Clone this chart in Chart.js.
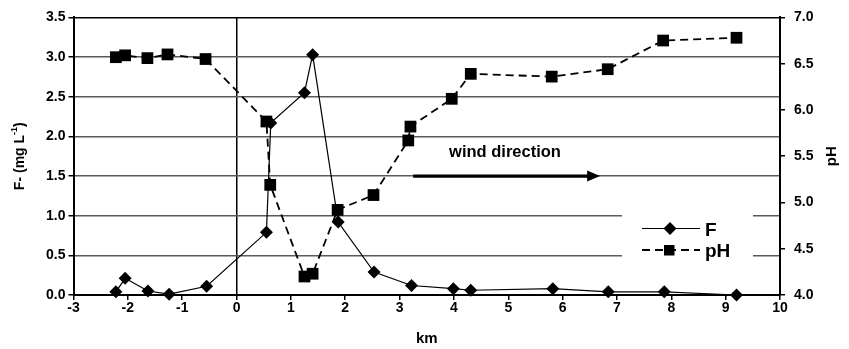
<!DOCTYPE html>
<html>
<head>
<meta charset="utf-8">
<script src="https://cdn.jsdelivr.net/npm/chart.js@4/dist/chart.umd.min.js"></script>
<style>
  html, body { margin: 0; padding: 0; background: #fff; }
  #wrap { width: 849px; height: 349px; }
</style>
</head>
<body>
<div id="wrap"><canvas id="c" width="849" height="349"></canvas></div>
<script>
// Distance along the transect (km) and fluoride concentration (mg/L)
const kmF = [-2.22, -2.05, -1.63, -1.24, -0.55, 0.55, 0.63, 1.25, 1.40, 1.87, 2.53, 3.22, 3.99, 4.31, 5.82, 6.84, 7.87, 9.20];
const fluoride = [0.04, 0.21, 0.05, 0.01, 0.11, 0.79, 2.17, 2.55, 3.03, 0.92, 0.29, 0.12, 0.08, 0.06, 0.08, 0.04, 0.04, 0.00];

// Distance along the transect (km) and pH
const kmPH = [-2.22, -2.05, -1.64, -1.27, -0.57, 0.55, 0.62, 1.25, 1.40, 1.86, 2.52, 3.16, 3.20, 3.96, 4.31, 5.80, 6.83, 7.85, 9.20];
const pHvals = [6.57, 6.59, 6.56, 6.60, 6.55, 5.875, 5.19, 4.20, 4.23, 4.92, 5.08, 5.67, 5.82, 6.12, 6.39, 6.36, 6.44, 6.75, 6.78];

// Axis ranges
const xTicksRange = [-3, 10];
const fRange = [0, 3.5];
const pHRange = [4, 7];

// Wind arrow, in axis units (km, F scale)
const windArrow = { fromKm: 3.25, toKm: 6.69, atF: 1.5 };
const windLabel = { text: 'wind direction', km: 4.94, f: 1.8 };

const FONT = '"Liberation Sans", Arial, Helvetica, sans-serif';

const toPoints = (xs, ys) => xs.map((x, i) => ({ x: x, y: ys[i] }));

const decor = {
  id: 'decor',
  beforeDatasetsDraw(chart) {
    const ctx = chart.ctx;
    // blank area behind the legend, breaking the grid lines
    ctx.save();
    ctx.fillStyle = '#fff';
    ctx.fillRect(622, 203, 131, 62);
    ctx.restore();
  },
  afterDraw(chart) {
    const ctx = chart.ctx;
    const xs = chart.scales.x, ys = chart.scales.y;
    ctx.save();

    // wind direction label and arrow
    ctx.fillStyle = '#000';
    ctx.font = 'bold 16.5px ' + FONT;
    ctx.textAlign = 'center';
    ctx.textBaseline = 'middle';
    ctx.fillText(windLabel.text, xs.getPixelForValue(windLabel.km), ys.getPixelForValue(windLabel.f));

    const ax0 = xs.getPixelForValue(windArrow.fromKm);
    const ax1 = xs.getPixelForValue(windArrow.toKm);
    const ay = ys.getPixelForValue(windArrow.atF);
    ctx.strokeStyle = '#000';
    ctx.lineWidth = 3.2;
    ctx.beginPath();
    ctx.moveTo(ax0, ay);
    ctx.lineTo(ax1 - 10, ay);
    ctx.stroke();
    ctx.beginPath();
    ctx.moveTo(ax1, ay);
    ctx.lineTo(ax1 - 13, ay - 5.5);
    ctx.lineTo(ax1 - 13, ay + 5.5);
    ctx.closePath();
    ctx.fill();

    // legend
    ctx.lineWidth = 1.2;
    ctx.setLineDash([]);
    ctx.beginPath();
    ctx.moveTo(642, 228.5);
    ctx.lineTo(700, 228.5);
    ctx.stroke();
    ctx.beginPath();
    ctx.moveTo(670, 222);
    ctx.lineTo(676.5, 228.5);
    ctx.lineTo(670, 235);
    ctx.lineTo(663.5, 228.5);
    ctx.closePath();
    ctx.fill();

    ctx.lineWidth = 1.8;
    ctx.setLineDash([8, 5]);
    ctx.beginPath();
    ctx.moveTo(642, 250);
    ctx.lineTo(700, 250);
    ctx.stroke();
    ctx.setLineDash([]);
    ctx.fillRect(664, 245, 10.5, 10.5);

    ctx.font = 'bold 19px ' + FONT;
    ctx.textAlign = 'left';
    ctx.textBaseline = 'alphabetic';
    ctx.fillText('F', 705, 236);
    ctx.fillText('pH', 705, 257);

    // left axis title with superscript
    const area = chart.chartArea;
    const midY = (area.top + area.bottom) / 2;
    ctx.save();
    ctx.translate(20, midY);
    ctx.rotate(-Math.PI / 2);
    const mainFont = 'bold 14px ' + FONT;
    const supFont = 'bold 9px ' + FONT;
    ctx.font = mainFont;
    const p1 = 'F- (mg L', p3 = ')';
    const w1 = ctx.measureText(p1).width;
    const w3 = ctx.measureText(p3).width;
    ctx.font = supFont;
    const sup = '-1';
    const w2 = ctx.measureText(sup).width;
    let tx = -(w1 + w2 + w3) / 2;
    ctx.textBaseline = 'middle';
    ctx.textAlign = 'left';
    ctx.font = mainFont;
    ctx.fillText(p1, tx, 0);
    tx += w1;
    ctx.font = supFont;
    ctx.fillText(sup, tx, -5);
    tx += w2;
    ctx.font = mainFont;
    ctx.fillText(p3, tx, 0);
    ctx.restore();

    // right axis title
    ctx.save();
    ctx.translate(832, midY);
    ctx.rotate(-Math.PI / 2);
    ctx.font = 'bold 15px ' + FONT;
    ctx.textAlign = 'center';
    ctx.textBaseline = 'middle';
    ctx.fillText('pH', 0, 0);
    ctx.restore();

    // bottom axis title
    ctx.font = 'bold 15px ' + FONT;
    ctx.textAlign = 'center';
    ctx.textBaseline = 'middle';
    ctx.fillText('km', (area.left + area.right) / 2, 339);

    ctx.restore();
  }
};

const tickFont = { family: FONT, size: 14, weight: 'bold' };

new Chart(document.getElementById('c'), {
  type: 'line',
  data: {
    datasets: [
      {
        label: 'F',
        data: toPoints(kmF, fluoride),
        yAxisID: 'y',
        borderColor: '#000',
        backgroundColor: '#000',
        borderWidth: 1.2,
        pointStyle: 'rectRot',
        pointRadius: 6.5,
        pointBorderWidth: 0,
        pointBackgroundColor: '#000',
        tension: 0,
        clip: false
      },
      {
        label: 'pH',
        data: toPoints(kmPH, pHvals),
        yAxisID: 'y2',
        borderColor: '#000',
        backgroundColor: '#000',
        borderWidth: 1.8,
        borderDash: [8, 5],
        pointStyle: 'rect',
        pointRadius: 8.3,
        pointBorderWidth: 0,
        pointBackgroundColor: '#000',
        tension: 0,
        clip: false
      }
    ]
  },
  options: {
    responsive: false,
    animation: false,
    devicePixelRatio: 1,
    layout: { padding: { left: 0, right: 0, top: 15, bottom: 0 } },
    plugins: { legend: { display: false }, tooltip: { enabled: false } },
    scales: {
      x: {
        type: 'linear',
        min: xTicksRange[0],
        max: xTicksRange[1],
        afterFit(s) { s.height = 54; },
        ticks: { stepSize: 1, color: '#000', font: tickFont, padding: 0, maxRotation: 0, autoSkip: false },
        grid: {
          color: c => (c.tick && c.tick.value === 0) ? '#000' : 'rgba(0,0,0,0)',
          lineWidth: 1.5,
          tickColor: '#000',
          tickLength: 5
        },
        border: { color: '#000', width: 2 }
      },
      y: {
        type: 'linear',
        position: 'left',
        min: fRange[0],
        max: fRange[1],
        afterFit(s) { s.width = 73.5; },
        ticks: { stepSize: 0.5, color: '#000', font: tickFont, padding: 3, callback: v => v.toFixed(1) },
        grid: {
          color: c => {
            const v = c.tick ? c.tick.value : null;
            if (v === fRange[1]) return '#000';
            if (v === fRange[0]) return 'rgba(0,0,0,0)';
            return '#5a5a5a';
          },
          lineWidth: 1.5,
          tickColor: '#000',
          tickLength: 5
        },
        border: { color: '#000', width: 2 }
      },
      y2: {
        type: 'linear',
        position: 'right',
        min: pHRange[0],
        max: pHRange[1],
        afterFit(s) { s.width = 69; },
        ticks: { stepSize: 0.5, color: '#000', font: tickFont, padding: 9, callback: v => v.toFixed(1) },
        grid: { drawOnChartArea: false, tickColor: '#000', tickLength: 5, lineWidth: 1.5 },
        border: { color: '#000', width: 2 }
      }
    }
  },
  plugins: [decor]
});
</script>
</body>
</html>
